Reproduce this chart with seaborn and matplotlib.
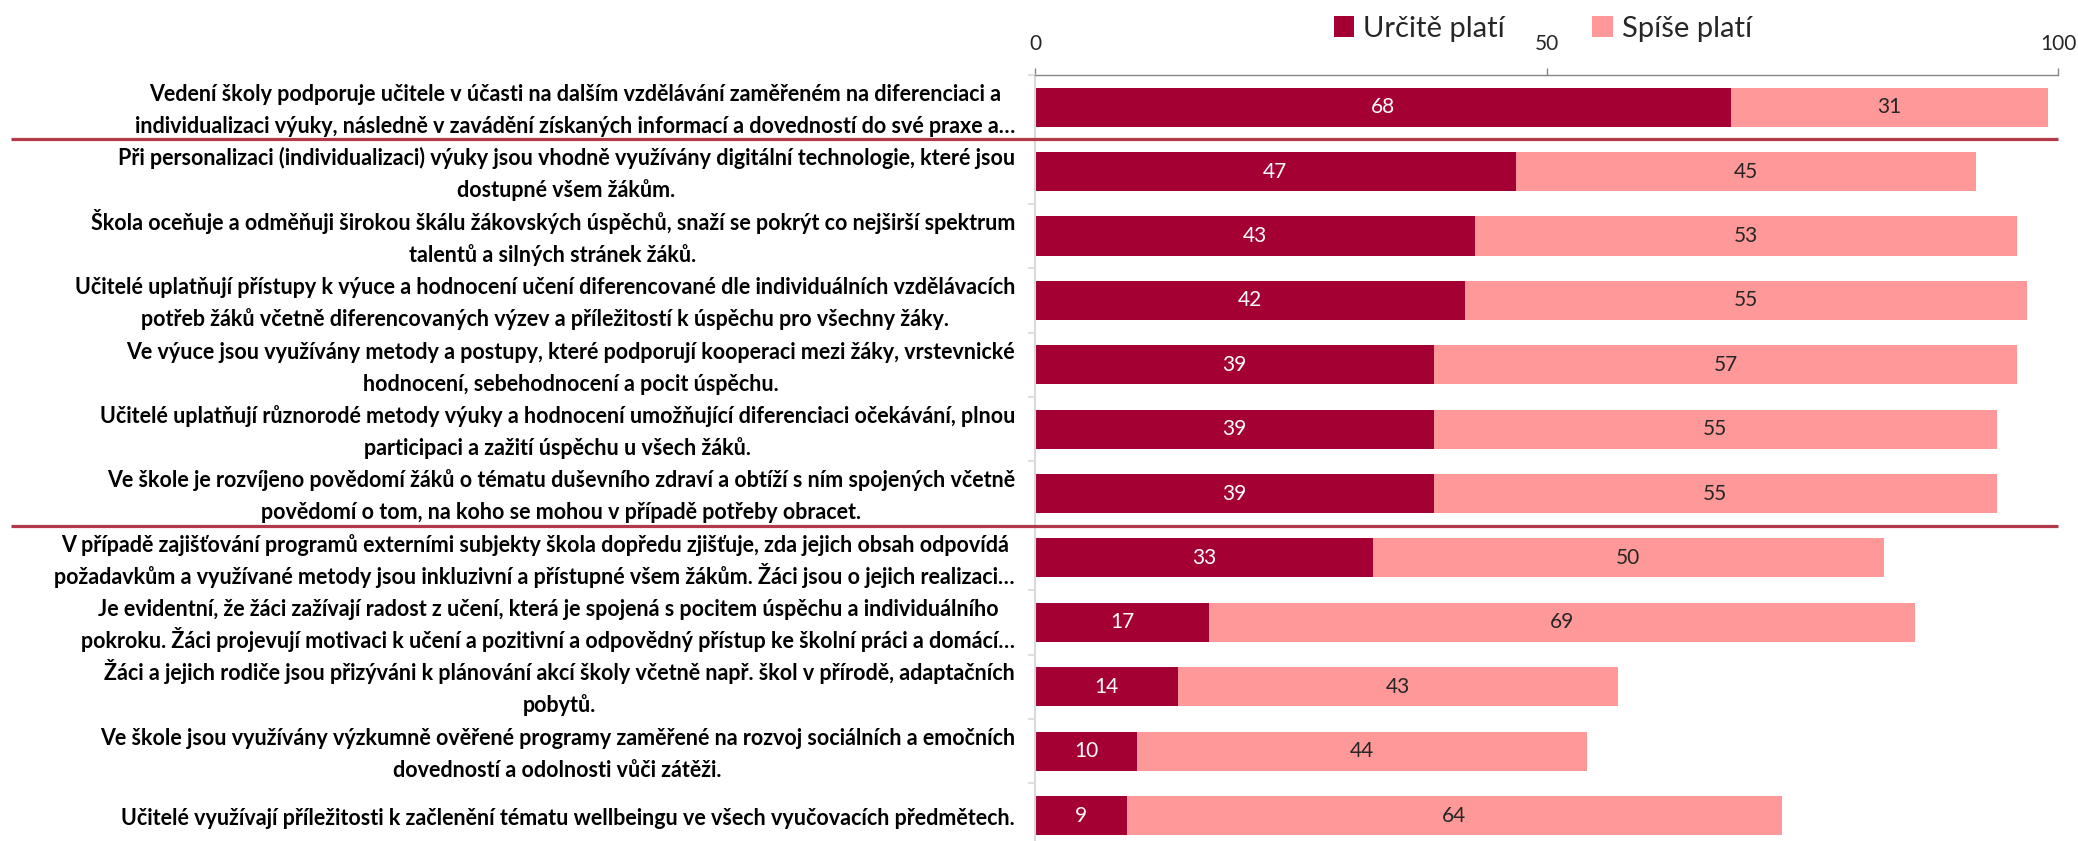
import matplotlib
matplotlib.use("Agg")
import matplotlib.pyplot as plt
from matplotlib import font_manager
from matplotlib.font_manager import FontProperties
from matplotlib.patches import Patch
from matplotlib.ticker import FixedLocator
import seaborn as sns
import pandas as pd

# ---------------- data ----------------
categories = [
    "Vedení školy podporuje učitele v účasti na dalším vzdělávání zaměřeném na diferenciaci a\nindividualizaci výuky, následně v zavádění získaných informací a dovedností do své praxe a…",
    "Při personalizaci (individualizaci) výuky jsou vhodně využívány digitální technologie, které jsou\ndostupné všem žákům.",
    "Škola oceňuje a odměňuji širokou škálu žákovských úspěchů, snaží se pokrýt co nejširší spektrum\ntalentů a silných stránek žáků.",
    "Učitelé uplatňují přístupy k výuce a hodnocení učení diferencované dle individuálních vzdělávacích\npotřeb žáků včetně diferencovaných výzev a příležitostí k úspěchu pro všechny žáky.",
    "Ve výuce jsou využívány metody a postupy, které podporují kooperaci mezi žáky, vrstevnické\nhodnocení, sebehodnocení a pocit úspěchu.",
    "Učitelé uplatňují různorodé metody výuky a hodnocení umožňující diferenciaci očekávání, plnou\nparticipaci a zažití úspěchu u všech žáků.",
    "Ve škole je rozvíjeno povědomí žáků o tématu duševního zdraví a obtíží s ním spojených včetně\npovědomí o tom, na koho se mohou v případě potřeby obracet.",
    "V případě zajišťování programů externími subjekty škola dopředu zjišťuje, zda jejich obsah odpovídá\npožadavkům a využívané metody jsou inkluzivní a přístupné všem žákům. Žáci jsou o jejich realizaci…",
    "Je evidentní, že žáci zažívají radost z učení, která je spojená s pocitem úspěchu a individuálního\npokroku. Žáci projevují motivaci k učení a pozitivní a odpovědný přístup ke školní práci a domácí…",
    "Žáci a jejich rodiče jsou přizýváni k plánování akcí školy včetně např. škol v přírodě, adaptačních\npobytů.",
    "Ve škole jsou využívány výzkumně ověřené programy zaměřené na rozvoj sociálních a emočních\ndovedností a odolnosti vůči zátěži.",
    "Učitelé využívají příležitosti k začlenění tématu wellbeingu ve všech vyučovacích předmětech.",
]
urcite = [68, 47, 43, 42, 39, 39, 39, 33, 17, 14, 10, 9]
spise = [31, 45, 53, 55, 57, 55, 55, 50, 69, 43, 44, 64]
series_names = ["Určitě platí", "Spíše platí"]
x_ticks = [0, 50, 100]
separators_after = [0, 6]

# ---------------- style ----------------
sns.set_theme(style="white")
installed = {f.name for f in font_manager.fontManager.ttflist}
main_font = "Lato" if "Lato" in installed else "DejaVu Sans"
plt.rcParams["font.family"] = [main_font, "DejaVu Sans"]

dark = "#A50034"
light = "#FF9999"
sep_color = "#B23A48"

df = pd.DataFrame({"cat": categories, "urcite": urcite, "spise": spise})
df["total"] = df["urcite"] + df["spise"]

DPI = 100
fig = plt.figure(figsize=(20.78, 8.41), dpi=DPI)
ax = fig.add_axes([1035 / 2078, -0.008, 1023 / 2078, 0.9188])

sns.barplot(data=df, y="cat", x="total", color=light, width=0.606,
            orient="h", ax=ax, saturation=1, edgecolor="none")
sns.barplot(data=df, y="cat", x="urcite", color=dark, width=0.606,
            orient="h", ax=ax, saturation=1, edgecolor="none")

ax.set_xlim(0, 100)
ax.set_ylim(len(categories) - 0.5, -0.5)
ax.set_xlabel("")
ax.set_ylabel("")

# data labels
for i, (a, b) in enumerate(zip(urcite, spise)):
    ax.text(a / 2, i, f"{a}", ha="center", va="center", color="white", fontsize=15)
    ax.text(a + b / 2, i, f"{b}", ha="center", va="center", color="#262626", fontsize=15)

# x axis on top
ax.xaxis.tick_top()
ax.set_xticks(x_ticks)
ax.set_xticklabels([str(t) for t in x_ticks])
ax.tick_params(axis="x", which="major", top=True, bottom=False, length=5,
               width=1, color="#868686", pad=10, labelsize=15, labelcolor="#262626")

# y category labels: drawn line by line for even line spacing
ax.set_yticks(range(len(categories)))
ax.set_yticklabels([""] * len(categories))
ax.tick_params(axis="y", which="major", length=0)
ax.yaxis.set_minor_locator(FixedLocator([i - 0.5 for i in range(len(categories) + 1)]))
ax.tick_params(axis="y", which="minor", left=True, length=5, width=1.2, color="#D9D9D9")

label_fs = 15.5
prop = FontProperties(family=[main_font, "DejaVu Sans"], weight="bold", size=label_fs)
renderer = fig.canvas.get_renderer()
pad_px = 20
line_gap_px = 32
cap_px = 0.72 * label_fs * DPI / 72
shift_px = 2
px2pt = 72 / DPI
for i, cat in enumerate(categories):
    lines = cat.split("\n")
    widths = [renderer.get_text_width_height_descent(l, prop, ismath=False)[0] for l in lines]
    W = max(widths)
    xc = -(pad_px + W / 2)
    n = len(lines)
    for k, line in enumerate(lines):
        center_off = ((n - 1) / 2 - k) * line_gap_px - shift_px  # up positive
        base_off = center_off - cap_px / 2
        ax.annotate(line, xy=(0, i), xycoords="data",
                    xytext=(xc * px2pt, base_off * px2pt), textcoords="offset points",
                    ha="center", va="baseline", fontproperties=prop, color="black",
                    annotation_clip=False)

for side in ["bottom", "right"]:
    ax.spines[side].set_visible(False)
ax.spines["top"].set_color("#868686")
ax.spines["top"].set_linewidth(1)
ax.spines["left"].set_color("#D9D9D9")
ax.spines["left"].set_linewidth(1.5)
ax.grid(False)

# separators
for s in separators_after:
    ax.plot([-1.001, 1.0], [s + 0.5, s + 0.5], transform=ax.get_yaxis_transform(),
            color=sep_color, lw=2.3, clip_on=False, solid_capstyle="butt", zorder=5)

# legend
handles = [Patch(facecolor=dark, edgecolor="none"), Patch(facecolor=light, edgecolor="none")]
fig.legend(handles, series_names, loc="center", bbox_to_anchor=(0.7425, 0.966),
           ncol=2, frameon=False, fontsize=21, handlelength=0.7, handleheight=0.7,
           handletextpad=0.3, columnspacing=3.0, labelcolor="#262626")

fig.savefig("out.png", dpi=DPI)
